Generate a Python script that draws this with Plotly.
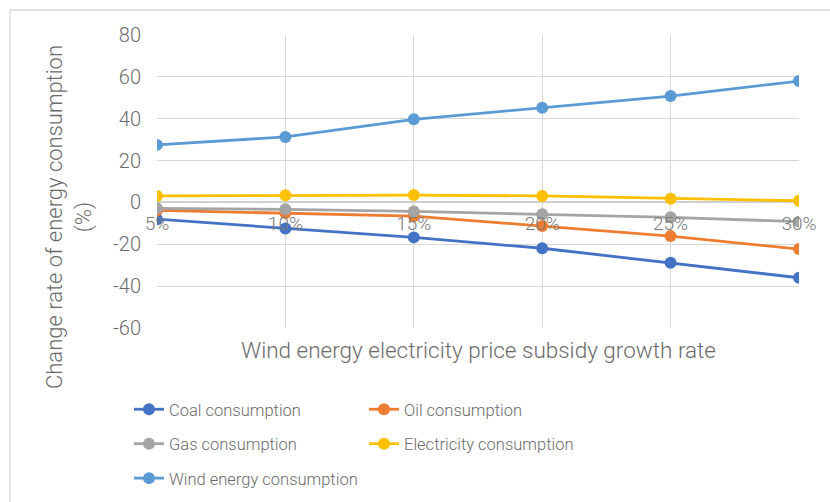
import plotly.graph_objects as go

# Subsidy growth-rate scenarios (x categories)
categories = ["5%", "10%", "15%", "20%", "25%", "30%"]

# Change rate of each energy consumption (%)
coal = [-8.0, -12.5, -16.7, -21.9, -28.8, -36.0]
oil = [-3.8, -5.0, -6.5, -11.3, -16.1, -22.3]
gas = [-2.8, -3.3, -4.3, -5.7, -7.1, -9.2]
electricity = [3.1, 3.4, 3.5, 3.1, 1.8, 0.8]
wind = [27.5, 31.3, 39.7, 45.2, 50.8, 58.0]

y_ticks = [80, 60, 40, 20, 0, -20, -40, -60]
y_tick_text = ["80", "60", "40", "20", "0", "-20", "-40", "-60"]

series = [
    ("Coal consumption", coal, "#4472C4", "legend"),
    ("Oil consumption", oil, "#ED7D31", "legend2"),
    ("Gas consumption", gas, "#A5A5A5", "legend"),
    ("Electricity consumption", electricity, "#FFC000", "legend2"),
    ("Wind energy consumption", wind, "#5B9BD5", "legend"),
]

W, H = 830, 502
ML, MR, MT, MB = 157, 31, 35, 174
PW, PH = W - ML - MR, H - MT - MB


def px_x(px):
    return (px - ML) / PW


def px_y(py):
    return (H - MB - py) / PH


FONT = "Roboto"
TXT = "#6b6b6b"
GRID = "#d9d9d9"

fig = go.Figure()
for name, vals, color, lg in series:
    fig.add_trace(go.Scatter(
        x=categories, y=vals, name=name, mode="lines+markers",
        line=dict(color=color, width=2.8),
        marker=dict(color=color, size=12),
        legend=lg, legendgroup=name,
    ))

zero_pos = px_y(MT + 80 * PH / 140)

fig.update_layout(
    width=W, height=H,
    margin=dict(l=ML, r=MR, t=MT, b=MB, autoexpand=False),
    paper_bgcolor="white", plot_bgcolor="white",
    font=dict(family=FONT, size=18, color=TXT, weight=300),
    xaxis=dict(
        type="category", range=[0, 5], anchor="free", position=zero_pos,
        showgrid=True, gridcolor=GRID, gridwidth=1.3,
        showline=False, zeroline=False,
        ticks="outside", ticklen=4, tickcolor="rgba(0,0,0,0)",
        tickfont=dict(size=19, color="#7a7a7a"),
    ),
    yaxis=dict(
        range=[-60, 80], tickvals=y_ticks, ticktext=y_tick_text,
        showgrid=True, gridcolor=GRID, gridwidth=1.3,
        zeroline=True, zerolinecolor="#cfcfcf", zerolinewidth=1.5,
        showline=False,
        ticks="outside", ticklen=11, tickcolor="rgba(0,0,0,0)",
        tickfont=dict(size=20, color=TXT),
    ),
    legend=dict(
        x=px_x(129), y=px_y(392), xanchor="left", yanchor="top",
        orientation="v", tracegroupgap=10, bgcolor="rgba(0,0,0,0)",
        font=dict(size=16.5, color=TXT), itemwidth=30,
    ),
    legend2=dict(
        x=px_x(364), y=px_y(392), xanchor="left", yanchor="top",
        orientation="v", tracegroupgap=10, bgcolor="rgba(0,0,0,0)",
        font=dict(size=16.5, color=TXT), itemwidth=30,
    ),
    showlegend=True,
)

# Axis titles
fig.add_annotation(
    text="Wind energy electricity price subsidy growth rate",
    xref="paper", yref="paper", x=px_x(478), y=px_y(350),
    showarrow=False, font=dict(size=22.5, color=TXT),
    xanchor="center", yanchor="middle",
)
fig.add_annotation(
    text="Change rate of energy consumption<br>(%)",
    xref="paper", yref="paper", x=px_x(69), y=px_y(217),
    showarrow=False, textangle=-90, font=dict(size=22, color=TXT),
    xanchor="center", yanchor="middle",
)

# Chart-area frame
fig.add_shape(
    type="rect", xref="paper", yref="paper",
    x0=px_x(10), x1=px_x(845), y0=px_y(520), y1=px_y(10),
    line=dict(color=GRID, width=1.3), fillcolor="rgba(0,0,0,0)", layer="below",
)

fig.write_html("out.html")
